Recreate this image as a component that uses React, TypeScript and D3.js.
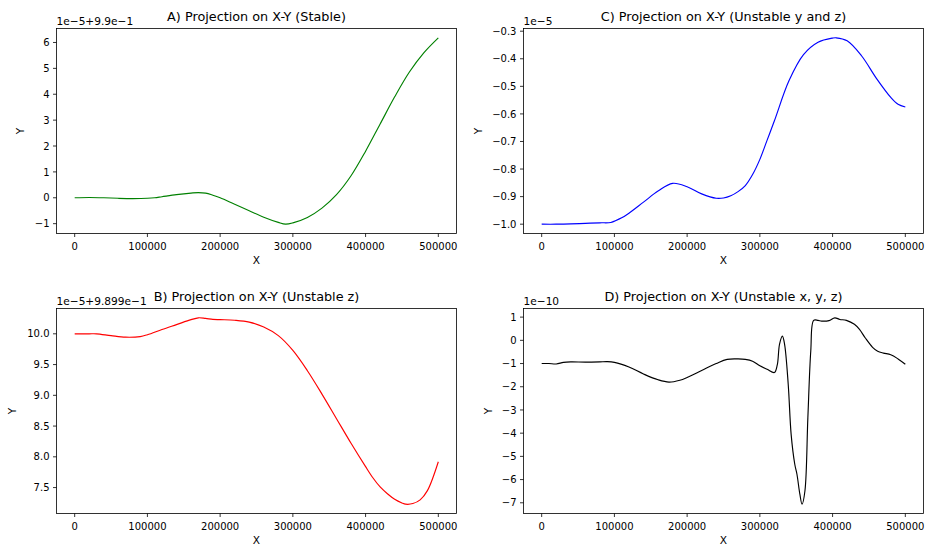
import React from "react";
import * as d3 from "d3";

// ---------- Data (x in units of 1000, y in axis display units) ----------
const xTickValues = [0, 100000, 200000, 300000, 400000, 500000];

// A) Stable — y in units of 1e-5, offset +9.9e-1
const xsA = [0, 20, 40, 60, 80, 100, 110, 120, 140, 160, 170, 180, 190, 200, 220, 240, 260, 280, 290, 300, 320, 340, 360, 380, 400, 420, 440, 460, 480, 500];
const ysA = [0, 0.01, 0, -0.02, -0.03, -0.02, 0, 0.04, 0.12, 0.18, 0.2, 0.18, 0.1, 0.0, -0.25, -0.5, -0.75, -0.95, -1.02, -0.97, -0.76, -0.4, 0.12, 0.85, 1.8, 2.85, 3.9, 4.85, 5.6, 6.18];
const yTicksA = [-1, 0, 1, 2, 3, 4, 5, 6];

// C) Unstable y and z — y in units of 1e-5
const xsC = [0, 20, 40, 60, 80, 95, 100, 110, 120, 140, 160, 180, 200, 220, 240, 250, 260, 270, 280, 290, 300, 310, 320, 340, 360, 380, 400, 405, 420, 440, 460, 480, 490, 500];
const ysC = [-1.0, -1.0, -0.999, -0.997, -0.995, -0.994, -0.989, -0.977, -0.96, -0.92, -0.88, -0.852, -0.864, -0.89, -0.906, -0.905, -0.897, -0.882, -0.86, -0.82, -0.765, -0.695, -0.625, -0.48, -0.385, -0.34, -0.325, -0.324, -0.335, -0.39, -0.47, -0.54, -0.565, -0.575];
const yTicksC = [-1.0, -0.9, -0.8, -0.7, -0.6, -0.5, -0.4, -0.3];

// B) Unstable z — y in units of 1e-5, offset +9.899e-1
const xsB = [0, 20, 30, 50, 70, 90, 100, 120, 140, 160, 170, 180, 190, 200, 220, 240, 260, 280, 300, 320, 340, 360, 380, 400, 410, 420, 430, 440, 450, 455, 465, 475, 485, 500];
const ysB = [10.0, 10.0, 10.0, 9.97, 9.945, 9.955, 9.985, 10.07, 10.15, 10.23, 10.26, 10.25, 10.235, 10.23, 10.22, 10.19, 10.11, 9.97, 9.73, 9.4, 9.02, 8.62, 8.22, 7.84, 7.66, 7.51, 7.4, 7.31, 7.25, 7.23, 7.24, 7.3, 7.45, 7.92];
const yTicksB = [7.5, 8.0, 8.5, 9.0, 9.5, 10.0];

// D) Unstable x, y, z — y in units of 1e-10
const xsD = [0, 10, 20, 30, 40, 60, 80, 90, 100, 120, 140, 160, 175, 190, 200, 220, 240, 255, 270, 280, 290, 300, 310, 320, 324, 327, 331, 334, 339, 343, 348, 351, 355, 358, 362, 366, 370, 374, 380, 385, 395, 403, 410, 419, 430, 437, 445, 455, 462, 470, 480, 490, 500];
const ysD = [-1.0, -1.0, -1.02, -0.95, -0.93, -0.94, -0.93, -0.92, -0.95, -1.15, -1.45, -1.7, -1.8, -1.72, -1.6, -1.3, -1.0, -0.82, -0.8, -0.82, -0.9, -1.1, -1.25, -1.39, -1.05, -0.17, 0.18, -0.17, -1.9, -4.05, -5.34, -5.77, -6.63, -7.06, -6.48, -3.33, -0.46, 0.86, 0.86, 0.83, 0.85, 0.97, 0.9, 0.86, 0.69, 0.47, 0.1, -0.3, -0.47, -0.55, -0.62, -0.8, -1.03];
const yTicksD = [-7, -6, -5, -4, -3, -2, -1, 0, 1];

const FONT = "DejaVu Sans, sans-serif";
const W = 400;
const H = 205;

const fmtMinus = (s: string) => s.replace(/-/g, "\u2212");

type PanelProps = {
  left: number;
  top: number;
  xs: number[];
  ys: number[];
  yTicks: number[];
  decimals: number;
  color: string;
  title: string;
  offsetText: string;
  ylabelOffset: number;
};

function Panel({ left, top, xs, ys, yTicks, decimals, color, title, offsetText, ylabelOffset }: PanelProps) {
  const xData = xs.map((v) => v * 1000);
  const [x0, x1] = d3.extent(xData) as [number, number];
  const xPad = (x1 - x0) * 0.05;
  const x = d3.scaleLinear().domain([x0 - xPad, x1 + xPad]).range([0, W]);
  const [y0, y1] = d3.extent(ys) as [number, number];
  const yPad = (y1 - y0) * 0.05;
  const y = d3.scaleLinear().domain([y0 - yPad, y1 + yPad]).range([H, 0]);
  const pts: [number, number][] = xData.map((v, i) => [v, ys[i]]);
  const line = d3
    .line<[number, number]>()
    .x((d) => x(d[0]))
    .y((d) => y(d[1]))
    .curve(d3.curveCatmullRom.alpha(0.5));

  return (
    <g transform={`translate(${left},${top})`} fontFamily={FONT}>
      <path d={line(pts) || ""} fill="none" stroke={color} strokeWidth={1.15} />
      <rect x={0} y={0} width={W} height={H} fill="none" stroke="#000" strokeWidth={0.8} />
      {xTickValues.map((t) => (
        <g key={"x" + t} transform={`translate(${x(t)},${H})`}>
          <line y1={0} y2={3.5} stroke="#000" strokeWidth={0.8} />
          <text y={16.5} textAnchor="middle" fontSize={10} fill="#000">
            {String(t)}
          </text>
        </g>
      ))}
      {yTicks.map((t) => (
        <g key={"y" + t} transform={`translate(0,${y(t)})`}>
          <line x1={0} x2={-3.5} stroke="#000" strokeWidth={0.8} />
          <text x={-7} dy="0.36em" textAnchor="end" fontSize={10} fill="#000">
            {fmtMinus(t.toFixed(decimals))}
          </text>
        </g>
      ))}
      <text x={0} y={-3.5} fontSize={10.6} fill="#000">
        {offsetText}
      </text>
      <text x={W / 2} y={-8} textAnchor="middle" fontSize={12.8} fill="#000">
        {title}
      </text>
      <text x={W / 2} y={H + 30.5} textAnchor="middle" fontSize={10.6} fill="#000">
        X
      </text>
      <text
        transform={`translate(${-ylabelOffset},${H / 2}) rotate(-90)`}
        textAnchor="middle"
        fontSize={10.6}
        fill="#000"
      >
        Y
      </text>
    </g>
  );
}

export default function App() {
  return (
    <svg
      width={925}
      height={547}
      style={{ position: "absolute", left: 0, top: 0, background: "#fff" }}
    >
      <rect width={925} height={547} fill="#fff" />
      <Panel left={56.5} top={28.5} xs={xsA} ys={ysA} yTicks={yTicksA} decimals={0} color="green"
        title="A) Projection on X-Y (Stable)" offsetText={"1e\u22125+9.9e\u22121"} ylabelOffset={33} />
      <Panel left={523.5} top={28.5} xs={xsC} ys={ysC} yTicks={yTicksC} decimals={1} color="blue"
        title="C) Projection on X-Y (Unstable y and z)" offsetText={"1e\u22125"} ylabelOffset={42} />
      <Panel left={56.5} top={308.5} xs={xsB} ys={ysB} yTicks={yTicksB} decimals={1} color="red"
        title="B) Projection on X-Y (Unstable z)" offsetText={"1e\u22125+9.899e\u22121"} ylabelOffset={41} />
      <Panel left={523.5} top={308.5} xs={xsD} ys={ysD} yTicks={yTicksD} decimals={0} color="black"
        title="D) Projection on X-Y (Unstable x, y, z)" offsetText={"1e\u221210"} ylabelOffset={32} />
    </svg>
  );
}
